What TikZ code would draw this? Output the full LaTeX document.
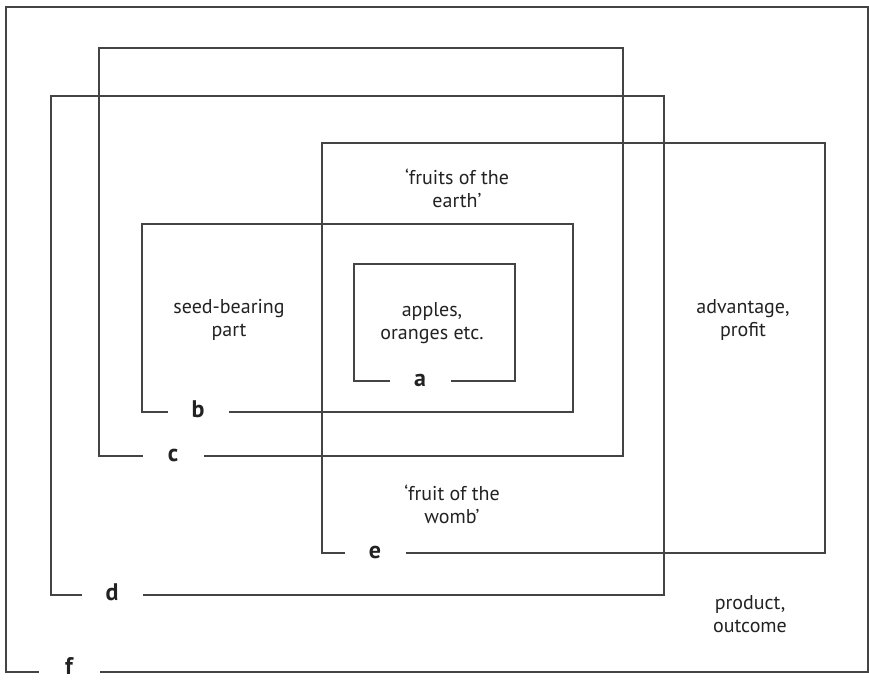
\documentclass[tikz,border=0pt]{standalone}
\usepackage{fontspec}
\setmainfont{PT Sans}
\usetikzlibrary{positioning}
\definecolor{lineGrey}{HTML}{444444}
\definecolor{textDark}{HTML}{222222}

\begin{document}
\begin{tikzpicture}[
    x=0.5pt, y=-0.5pt,
    frame/.style={draw=lineGrey, line width=0.7pt},
    tag/.style={fill=white, inner ysep=0pt, inner xsep=0pt, anchor=mid,
                minimum width=30.5pt,
                font=\fontsize{12}{14}\selectfont\bfseries\color{textDark}},
    note/.style={align=center,
                 font=\fontsize{10}{11.5}\selectfont\color{textDark}},
  ]
    \useasboundingbox (0,0) rectangle (869,681);

    % f: product, outcome
    \draw[frame] (6,7) rectangle (868,672);
    % c
    \draw[frame] (99,48) rectangle (623,456);
    % d
    \draw[frame] (51,96) rectangle (664,595);
    % e
    \draw[frame] (322,143) rectangle (825,553);
    % b
    \draw[frame] (142,224) rectangle (573,412);
    % a
    \draw[frame] (354,264) rectangle (515,381);

    % letters sitting in the gaps of the bottom edges
    \node[tag] (tagA) at (420,381) {a};
    \node[tag] (tagB) at (198,412) {b};
    \node[tag] (tagC) at (173,456) {c};
    \node[tag] (tagD) at (112,595) {d};
    \node[tag] (tagE) at (375,553) {e};
    \node[tag] (tagF) at (69,669) {f};

    % meanings
    \node[note] (earth) at (457,188) {`fruits of the\\earth'};
    \node[note] (seed) at (229,320) {seed-bearing\\part};
    \node[note] (apples) at (432,323) {apples,\\oranges etc.};
    \node[note] (profit) at (743,320) {advantage,\\profit};
    \node[note] (womb) at (452,504) {`fruit of the\\womb'};
    \node[note] (outcome) at (750,614) {product,\\outcome};
  \end{tikzpicture}
\end{document}
